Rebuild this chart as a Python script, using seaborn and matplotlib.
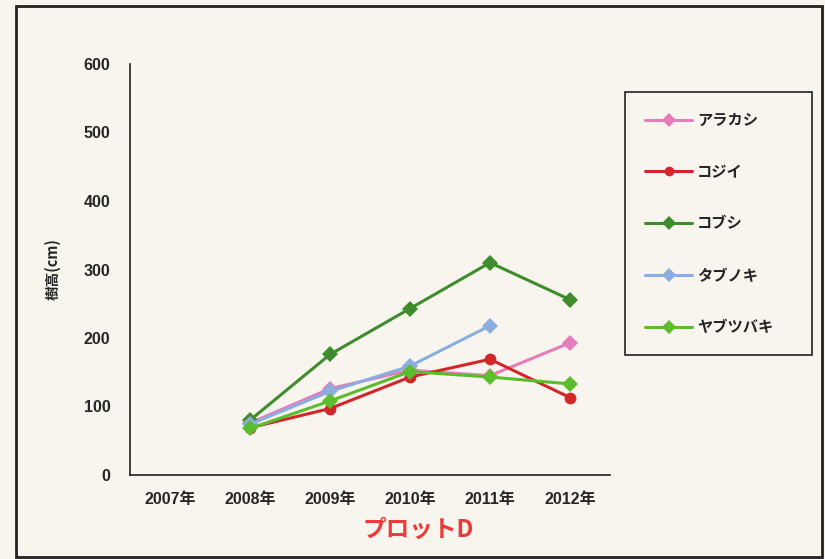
import pandas as pd
import matplotlib.pyplot as plt
import seaborn as sns
import numpy as np
from matplotlib.patches import Rectangle

# data
years = [2007, 2008, 2009, 2010, 2011, 2012]
year_labels = ['2007年', '2008年', '2009年', '2010年', '2011年', '2012年']
species = ['アラカシ', 'コジイ', 'コブシ', 'タブノキ', 'ヤブツバキ']
arakashi = [np.nan, 76, 126, 153, 145, 193]
kojii = [np.nan, 69, 97, 143, 169, 113]
kobushi = [np.nan, 80, 176, 243, 310, 256]
tabunoki = [np.nan, 74, 122, 159, 218, np.nan]
yabutsubaki = [np.nan, 68, 108, 151, 143, 133]

colors = ['#e77cbb', '#d3262a', '#3e8c2c', '#8aaee0', '#5cbd2c']
markers = ['D', 'o', 'D', 'D', 'D']

rows = []
for name, vals in zip(species, [arakashi, kojii, kobushi, tabunoki, yabutsubaki]):
    for y, v in zip(years, vals):
        rows.append({'year': y, 'height': v, 'species': name})
df = pd.DataFrame(rows).dropna()

sns.set_style('white')
plt.rcParams['font.family'] = ['Noto Sans CJK JP', 'DejaVu Sans']
plt.rcParams['font.weight'] = 'bold'
tick_fonts = ['Liberation Sans', 'Noto Sans CJK JP']

bg = '#f7f5ee'
fig = plt.figure(figsize=(8.25, 5.59), dpi=100, facecolor=bg)
ax = fig.add_axes([130 / 825, 1 - 475 / 559, 480 / 825, 411 / 559])
ax.set_facecolor(bg)

sns.lineplot(data=df, x='year', y='height', hue='species', style='species',
             hue_order=species, style_order=species,
             palette=dict(zip(species, colors)),
             markers=dict(zip(species, markers)), dashes=False,
             linewidth=2.2, markersize=8.5, markeredgewidth=0, ax=ax)

ax.set_xlim(2006.5, 2012.5)
ax.set_ylim(0, 600)
ax.set_yticks(range(0, 601, 100))
ax.set_xticks(np.arange(2006.5, 2013, 1))
ax.set_xticklabels([])
ax.set_xticks(years, minor=True)
ax.set_xticklabels(year_labels, minor=True)
ax.tick_params(axis='x', which='minor', length=0, pad=12, labelsize=11.5)
ax.tick_params(axis='x', which='major', direction='in', length=5, width=1, color='#222222')
ax.tick_params(axis='y', direction='in', length=5, width=1, color='#222222',
               labelsize=11.5, pad=14)
for lab in ax.get_xticklabels(minor=True) + ax.get_yticklabels():
    lab.set_fontweight('bold')
    lab.set_family(tick_fonts)

for s in ['top', 'right']:
    ax.spines[s].set_visible(False)
for s in ['left', 'bottom']:
    ax.spines[s].set_color('#222222')
    ax.spines[s].set_linewidth(1.2)

ax.set_ylabel('樹高(cm)', fontsize=10.5, fontweight='bold')
ax.yaxis.set_label_coords(-0.145, 0.5)
ax.set_xlabel('プロットD', fontsize=17, fontweight='bold', color='#ea3a3a')
ax.xaxis.set_label_coords(0.60, -0.105)

handles, labels = ax.get_legend_handles_labels()
ax.get_legend().remove()
leg = fig.legend(handles, labels, loc='upper left',
                 bbox_to_anchor=(625 / 825, 1 - 352 / 559, 187 / 825, 260 / 559),
                 mode='expand',
                 frameon=True, fancybox=False, edgecolor='#222222',
                 facecolor=bg, framealpha=1, fontsize=11,
                 labelspacing=2.35, handlelength=3.1, handletextpad=0.3,
                 borderpad=1.3, borderaxespad=0)
leg.get_frame().set_linewidth(1.2)
for t in leg.get_texts():
    t.set_fontweight('bold')
for h in leg.legend_handles:
    h.set_markersize(7)

fig.patches.append(Rectangle((16 / 825, 1 - 557 / 559), 806 / 825, 551 / 559,
                             transform=fig.transFigure, fill=False,
                             edgecolor='#222222', linewidth=2))

fig.savefig('out.png', dpi=100, facecolor=bg)
